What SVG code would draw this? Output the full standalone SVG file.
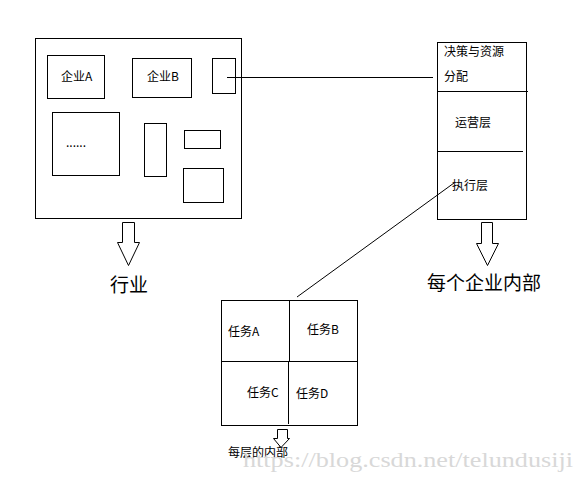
<svg xmlns="http://www.w3.org/2000/svg" width="585" height="481" viewBox="0 0 585 481">
<style>
.b{fill:none;stroke:#000;stroke-width:1}
.ar{fill:#fff;stroke:#000;stroke-width:1}
.t{font-family:"Noto Sans CJK SC","Liberation Sans",sans-serif;font-size:12px;fill:#000}
.tl{font-family:"Noto Sans CJK SC","Liberation Sans",sans-serif;font-size:19px;fill:#000}
.wm{font-family:"Liberation Serif",serif;font-size:20px;fill:#d8d8d8}
</style>
<rect width="585" height="481" fill="#fff"/>
<g id="industry">
<rect class="b" x="35.5" y="38.5" width="206" height="180"/>
<g id="companyA"><rect class="b" x="47.5" y="55.5" width="57" height="43"/><text class="t" x="61" y="81">企业A</text></g>
<g id="companyB"><rect class="b" x="132.5" y="58.5" width="59" height="39"/><text class="t" x="147" y="81">企业B</text></g>
<g id="smallbox"><rect class="b" x="212.5" y="58.5" width="23" height="35"/></g>
<g id="dots"><rect class="b" x="52.5" y="112.5" width="67" height="63"/><text class="t" x="66" y="147">......</text></g>
<g id="tall"><rect class="b" x="144.5" y="123.5" width="22" height="53"/></g>
<g id="wide"><rect class="b" x="184.5" y="130.5" width="36" height="18"/></g>
<g id="square"><rect class="b" x="183.5" y="168.5" width="40" height="34"/></g>
</g>
<g id="industryArrow">
<path class="ar" d="M122.5 222.5 H134.5 V242.5 H139.5 L128.5 265.5 L117.5 242.5 H122.5 Z"/>
<text class="tl" x="110" y="292">行业</text>
</g>
<g id="enterprise">
<rect class="b" x="437.5" y="42.5" width="89" height="177"/>
<line class="b" x1="437" y1="91.5" x2="528" y2="91.5"/>
<line class="b" x1="437" y1="151.5" x2="523" y2="151.5"/>
<text class="t" x="444" y="56">决策与资源</text>
<text class="t" x="444" y="81">分配</text>
<text class="t" x="455" y="127">运营层</text>
<text class="t" x="452" y="190">执行层</text>
</g>
<g id="enterpriseArrow">
<path class="ar" d="M481.5 222.5 H492.5 V243.5 H498.5 L487.5 265.5 L476.5 243.5 H481.5 Z"/>
<text class="tl" x="427" y="290">每个企业内部</text>
</g>
<g id="tasks">
<rect class="b" x="221.5" y="300.5" width="136" height="125"/>
<line class="b" x1="221" y1="361.5" x2="358" y2="361.5"/>
<line class="b" x1="289.5" y1="300" x2="289.5" y2="361"/>
<line class="b" x1="288.5" y1="361" x2="288.5" y2="424"/>
<text class="t" x="228" y="336">任务A</text>
<text class="t" x="307" y="334">任务B</text>
<text class="t" x="247" y="397">任务C</text>
<text class="t" x="296" y="398">任务D</text>
</g>
<g id="tasksArrow">
<path class="ar" d="M277.5 429.5 H287.5 V438.5 H289.5 L281 447.5 L273.5 438.5 H277.5 Z"/>
<text class="t" x="228" y="457">每层的内部</text>
</g>
<g id="connectors">
<line class="b" x1="227" y1="77.5" x2="433" y2="77.5"/>
<line class="b" x1="297" y1="297" x2="454" y2="183" stroke-width="0.8"/>
</g>
<text class="wm" x="243" y="467" textLength="330" lengthAdjust="spacingAndGlyphs">https://blog.csdn.net/telundusiji</text>
</svg>
